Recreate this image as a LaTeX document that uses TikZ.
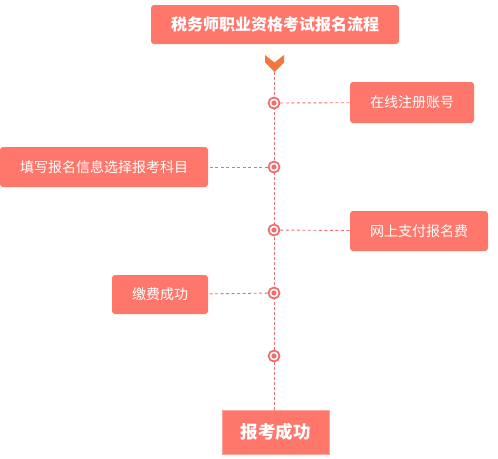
\documentclass[tikz,border=0pt]{standalone}
\usepackage{fontspec}
\newfontfamily\cjk{Noto Sans CJK SC}
\definecolor{salm}{HTML}{FF766B}
\definecolor{chev}{HTML}{F5773D}
\definecolor{ring}{HTML}{F26E6E}
\definecolor{edge}{HTML}{FFA59D}
\begin{document}
\begin{tikzpicture}[x=1pt,y=-1pt,line join=round,
	box/.style={fill=salm,rounded corners=3pt,text=white,inner sep=0pt,minimum height=40pt,font=\cjk\fontsize{14}{16}\selectfont},
	dot/.style={circle,draw=ring,line width=1.8pt,fill=white,minimum size=11pt,inner sep=0pt,
		path picture={\fill[ring] (path picture bounding box.center) circle (2.6pt);}},
	vline/.style={draw=ring,line width=0.9pt,dash pattern=on 3pt off 2pt},
	hline/.style={draw=ring,line width=0.9pt,dash pattern=on 3pt off 2.5pt}]
	\useasboundingbox (0,0) rectangle (498,458);
	\def\xm{274}
	\node[box,minimum width=248pt,minimum height=39pt,font=\cjk\bfseries\fontsize{16}{18}\selectfont] (title) at (275,24.5) {税务师职业资格考试报名流程};
	\fill[chev] (265,55)--(\xm.5,62.5)--(284,55)--(284,62.5)--(\xm.5,72)--(265,62.5)--cycle;
	\coordinate (tip) at (\xm,72);
	\node[box,rounded corners=0pt,draw=edge,line width=1pt,minimum width=107pt,minimum height=44pt,font=\cjk\bfseries\fontsize{17.5}{20}\selectfont] (done) at (275.5,432) {报考成功};
	\draw[vline] (tip) -- (\xm,410);
	\foreach \y [count=\i] in {103,167,230,293,356}
		\node[dot] (c\i) at (\xm,\y) {};
	% steps
	\node[box,minimum width=124pt,minimum height=41pt] (reg) at (412,102.5) {在线注册账号};
	\node[box,minimum width=208pt] (fill) at (104,167) {填写报名信息选择报考科目};
	\node[box,minimum width=138pt] (pay) at (419,231) {网上支付报名费};
	\node[box,minimum width=96pt,minimum height=39pt] (paid) at (160,294.5) {缴费成功};
	\draw[hline] (c1) -- (reg);
	\draw[hline] (c2) -- (fill);
	\draw[hline] (c3) -- (pay);
	\draw[hline] (c4) -- (paid);
\end{tikzpicture}
\end{document}
